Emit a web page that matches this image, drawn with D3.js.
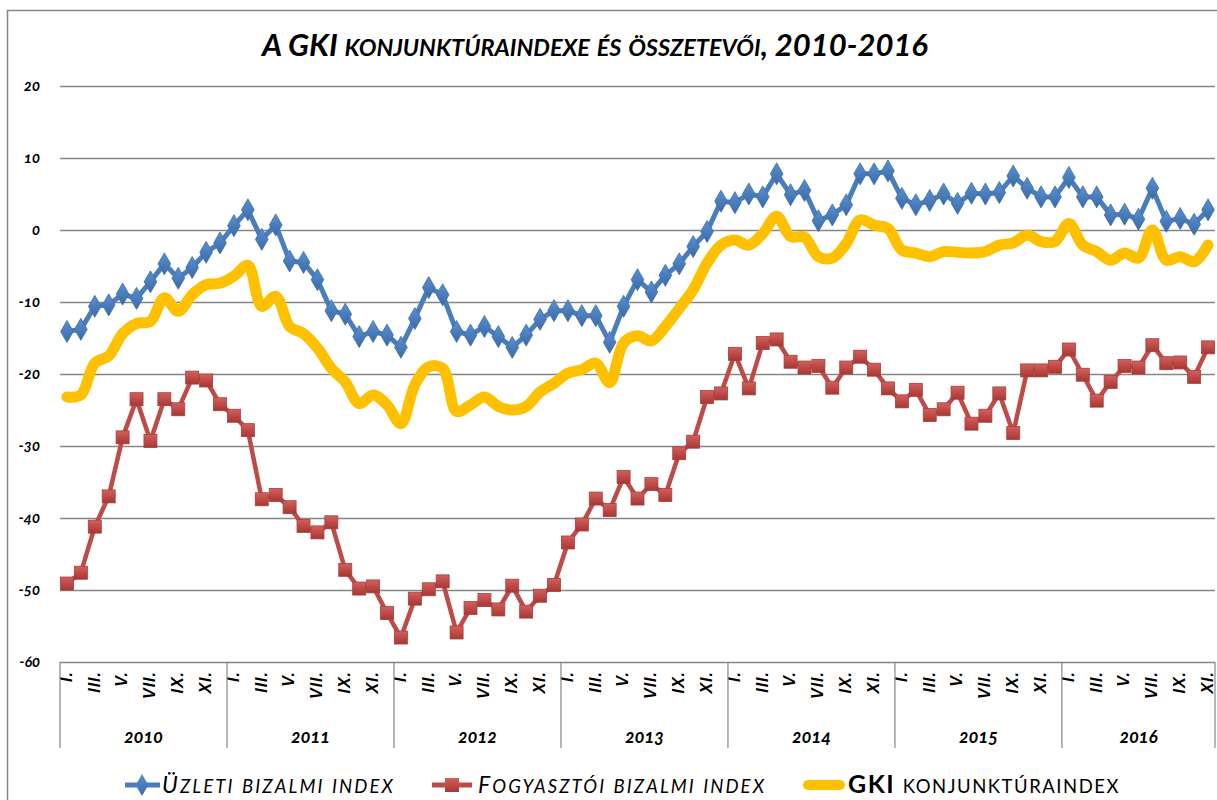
<!DOCTYPE html>
<html>
<head>
<meta charset="utf-8">
<script src="https://cdn.jsdelivr.net/npm/d3@7"></script>
<style>
    body { margin: 0; background: #ffffff; }
    svg { display: block; font-family: Lato, "Open Sans", sans-serif; }
    .tick-label { font-size: 15px; font-weight: bold; font-style: italic; font-variant-numeric: oldstyle-nums; fill: #000; }
</style>
</head>
<body>
<div class="graphContainer"></div>
<script>
// Years and how many months of each are shown (2016 ends with November)
const years = ['2010', '2011', '2012', '2013', '2014', '2015', '2016'];
const monthsPerYear = [12, 12, 12, 12, 12, 12, 11];
const monthLabels = ['I.', 'II.', 'III.', 'IV.', 'V.', 'VI.', 'VII.', 'VIII.', 'IX.', 'X.', 'XI.', 'XII.'];
const yTicks = [20, 10, 0, -10, -20, -30, -40, -50, -60];

// Üzleti bizalmi index
const uzleti = [
    -14.1, -13.8, -10.6, -10.4, -8.9, -9.5, -7.2, -4.7, -6.7, -5.2, -3.1, -1.8,
    0.6, 2.8, -1.3, 0.7, -4.3, -4.5, -6.9, -11.2, -11.7, -14.8, -14.1, -14.6,
    -16.3, -12.3, -8.0, -9.0, -14.1, -14.6, -13.4, -14.8, -16.3, -14.6, -12.4, -11.2,
    -11.2, -11.9, -11.9, -15.6, -10.6, -6.9, -8.6, -6.3, -4.7, -2.3, -0.2, 4.0,
    3.8, 5.0, 4.6, 7.8, 4.9, 5.5, 1.3, 2.1, 3.5, 7.8, 7.8, 8.2,
    4.4, 3.5, 4.1, 5.0, 3.7, 5.1, 5.0, 5.2, 7.5, 5.8, 4.6, 4.6,
    7.3, 4.6, 4.6, 2.1, 2.2, 1.5, 5.8, 1.2, 1.6, 0.8, 2.8
];

// Fogyasztói bizalmi index
const fogyasztoi = [
    -49.1, -47.6, -41.2, -37.0, -28.8, -23.5, -29.3, -23.5, -24.9, -20.5, -20.9, -24.2,
    -25.8, -27.8, -37.4, -36.8, -38.5, -41.1, -42.0, -40.6, -47.2, -49.8, -49.5, -53.2,
    -56.6, -51.2, -49.9, -48.8, -55.9, -52.5, -51.4, -52.7, -49.4, -53.0, -50.8, -49.3,
    -43.4, -40.9, -37.3, -38.9, -34.3, -37.3, -35.3, -36.8, -31.0, -29.4, -23.2, -22.7,
    -17.2, -22.0, -15.7, -15.2, -18.3, -19.1, -18.9, -21.9, -19.1, -17.6, -19.4, -22.0,
    -23.8, -22.2, -25.7, -24.9, -22.6, -26.9, -25.8, -22.7, -28.2, -19.5, -19.5, -19.0,
    -16.6, -20.1, -23.7, -21.1, -18.9, -19.1, -16.0, -18.5, -18.4, -20.4, -16.3
];

// GKI konjunktúraindex
const gki = [
    -23.2, -22.9, -18.5, -17.5, -14.4, -13.0, -12.7, -9.4, -11.3, -9.0, -7.6, -7.4,
    -6.4, -4.9, -10.6, -9.2, -13.4, -14.4, -16.4, -19.2, -21.1, -24.1, -22.9, -24.3,
    -26.9, -21.5, -19.0, -19.2, -25.2, -24.3, -23.2, -24.5, -25.0, -24.5, -22.5, -21.3,
    -19.9, -19.4, -18.5, -21.2, -15.7, -14.7, -15.4, -13.4, -10.9, -8.3, -4.6, -2.1,
    -1.4, -2.1, -0.5, 1.9, -0.9, -1.0, -3.7, -3.9, -1.9, 1.4, 0.7, 0.2,
    -2.8, -3.2, -3.7, -3.0, -3.1, -3.2, -3.0, -2.1, -1.8, -0.7, -1.6, -1.6,
    0.9, -2.1, -3.0, -4.2, -3.2, -3.9, 0.0, -4.2, -3.7, -4.4, -2.1
];

const colorBlue = '#4A7EBB';
const colorRed = '#BE4B48';
const colorYellow = '#FFC000';
const gridColor = '#868686';

const width = 1217, height = 800;
const margin = { top: 86, right: 2, bottom: 138, left: 60 };

// Build the monthly categories (index, year, month)
let categories = [];
years.forEach((y, yi) => {
    for (let m = 0; m < monthsPerYear[yi]; m++) {
        categories.push({ index: categories.length, year: y, month: m });
    }
});

// Writes text in small caps by hand: lowercase runs become smaller capitals
function smallCaps(textSel, str, bigSize, smallSize) {
    const runs = str.match(/(\p{Ll}+|[^\p{Ll}]+)/gu);
    runs.forEach(run => {
        const isLower = /\p{Ll}/u.test(run);
        textSel.append('tspan')
            .style('font-size', (isLower ? smallSize : bigSize) + 'px')
            .text(isLower ? run.toUpperCase() : run);
    });
}

// Spreads the letters so that a text fills the wanted width
function fitWidth(textSel, targetWidth) {
    const node = textSel.node();
    const current = node.getComputedTextLength();
    const chars = node.textContent.length;
    textSel.style('letter-spacing', ((targetWidth - current) / chars) + 'px');
}

const svg = d3.select('.graphContainer')
    .append('svg')
    .attr('width', width)
    .attr('height', height);

// Gradients for the markers
const defs = svg.append('defs');
function addGradient(id, light, dark) {
    const g = defs.append('linearGradient')
        .attr('id', id)
        .attr('x1', 0).attr('y1', 0).attr('x2', 0).attr('y2', 1);
    g.append('stop').attr('offset', '0%').attr('stop-color', light);
    g.append('stop').attr('offset', '100%').attr('stop-color', dark);
}
addGradient('gradRed', '#D4605C', '#A83633');
addGradient('gradBlue', '#5A90D0', '#3A6AA8');

// Chart border
svg.append('rect')
    .attr('x', 7.5)
    .attr('y', 10.5)
    .attr('width', width + 20)
    .attr('height', height + 20)
    .attr('fill', 'none')
    .attr('stroke', gridColor)
    .attr('stroke-width', 1.5);

// Scales
const xScale = d3.scaleBand()
    .domain(categories.map(d => d.index))
    .range([margin.left, width - margin.right])
    .padding(0);

const xPos = i => xScale(i) + xScale.bandwidth() / 2;

const yScale = d3.scaleLinear()
    .domain([-60, 20])
    .range([height - margin.bottom, margin.top]);

const plotRight = width - margin.right;
const plotBottom = height - margin.bottom;

// Horizontal gridlines
svg.append('g')
    .attr('class', 'grid')
    .attr('transform', 'translate(' + margin.left + ',0)')
    .call(d3.axisLeft(yScale)
        .tickValues(yTicks)
        .tickSize(-(plotRight - margin.left))
        .tickFormat('')
    )
    .call(g => g.select('.domain').remove())
    .call(g => g.selectAll('line').attr('stroke', gridColor).attr('stroke-width', 1.5));

// Y tick labels
svg.append('g')
    .selectAll('text')
    .data(yTicks)
    .enter()
    .append('text')
    .attr('class', 'tick-label')
    .attr('x', 40)
    .attr('y', d => yScale(d))
    .attr('dy', '0.35em')
    .attr('text-anchor', 'end')
    .text(d => d);

// Month labels (every second month), rotated
const monthAxis = svg.append('g')
    .attr('transform', 'translate(0,' + plotBottom + ')')
    .call(d3.axisBottom(xScale)
        .tickValues(categories.filter(d => d.month % 2 === 0).map(d => d.index))
        .tickSize(0)
        .tickFormat(i => monthLabels[categories[i].month])
    );
monthAxis.select('.domain').remove();
monthAxis.selectAll('text')
    .attr('class', 'tick-label')
    .style('font-size', '16px')
    .style('letter-spacing', '1px')
    .attr('transform', 'rotate(-90)')
    .attr('x', -9)
    .attr('y', 0)
    .attr('dy', '0.3em')
    .attr('text-anchor', 'end');

// Year separators and labels
let startIndex = 0;
let yearBounds = [];
years.forEach((y, yi) => {
    const x0 = xScale(startIndex);
    const lastIndex = startIndex + monthsPerYear[yi] - 1;
    const x1 = xScale(lastIndex) + xScale.bandwidth();
    yearBounds.push({ year: y, x0: x0, x1: x1 });
    startIndex = lastIndex + 1;
});

svg.append('g')
    .selectAll('line')
    .data([yearBounds[0].x0].concat(yearBounds.map(d => d.x1)))
    .enter()
    .append('line')
    .attr('x1', d => d)
    .attr('x2', d => d)
    .attr('y1', plotBottom)
    .attr('y2', plotBottom + 86)
    .attr('stroke', gridColor)
    .attr('stroke-width', 1.2);

svg.append('g')
    .selectAll('text')
    .data(yearBounds)
    .enter()
    .append('text')
    .attr('class', 'tick-label')
    .style('font-size', '18px')
    .attr('x', d => (d.x0 + d.x1) / 2)
    .attr('y', plotBottom + 81)
    .attr('text-anchor', 'middle')
    .text(d => d.year);

// Line generators
const line = d3.line()
    .x((d, i) => xPos(i))
    .y(d => yScale(d));

const smoothLine = d3.line()
    .x((d, i) => xPos(i))
    .y(d => yScale(d))
    .curve(d3.curveCatmullRom.alpha(0.5));

const diamond = d3.symbol().type(d3.symbolDiamond).size(140);

// Üzleti bizalmi index
svg.append('path')
    .datum(uzleti)
    .attr('fill', 'none')
    .attr('stroke', colorBlue)
    .attr('stroke-width', 5)
    .attr('stroke-linejoin', 'round')
    .attr('d', line);

svg.append('g')
    .selectAll('path')
    .data(uzleti)
    .enter()
    .append('path')
    .attr('d', diamond)
    .attr('transform', (d, i) => 'translate(' + xPos(i) + ',' + yScale(d) + ')')
    .attr('fill', 'url(#gradBlue)')
    .attr('stroke', '#3F6FA8')
    .attr('stroke-width', 0.8);

// Fogyasztói bizalmi index
svg.append('path')
    .datum(fogyasztoi)
    .attr('fill', 'none')
    .attr('stroke', colorRed)
    .attr('stroke-width', 4.5)
    .attr('stroke-linejoin', 'round')
    .attr('d', line);

svg.append('g')
    .selectAll('rect')
    .data(fogyasztoi)
    .enter()
    .append('rect')
    .attr('x', (d, i) => xPos(i) - 6.5)
    .attr('y', d => yScale(d) - 6.5)
    .attr('width', 13)
    .attr('height', 13)
    .attr('fill', 'url(#gradRed)')
    .attr('stroke', '#A5403D')
    .attr('stroke-width', 0.8);

// GKI konjunktúraindex
svg.append('path')
    .datum(gki)
    .attr('fill', 'none')
    .attr('stroke', colorYellow)
    .attr('stroke-width', 11)
    .attr('stroke-linejoin', 'round')
    .attr('stroke-linecap', 'round')
    .attr('d', smoothLine);

// Title
const title = svg.append('text')
    .attr('x', 595)
    .attr('y', 56)
    .attr('text-anchor', 'middle')
    .style('font-weight', 'bold')
    .style('font-style', 'italic');
smallCaps(title, 'A GKI konjunktúraindexe és összetevői, 2010-2016', 31, 23.5);

// Legend
const legendY = 785;
const legend = svg.append('g').attr('class', 'legend');

legend.append('line')
    .attr('x1', 125).attr('x2', 160)
    .attr('y1', legendY).attr('y2', legendY)
    .attr('stroke', colorBlue).attr('stroke-width', 5);
legend.append('path')
    .attr('d', diamond)
    .attr('transform', 'translate(142,' + legendY + ')')
    .attr('fill', 'url(#gradBlue)');
const blueText = legend.append('text')
    .attr('x', 162).attr('y', legendY + 8)
    .style('font-style', 'italic');
smallCaps(blueText, 'Üzleti bizalmi index', 23, 18.5);
fitWidth(blueText, 233);

legend.append('line')
    .attr('x1', 432).attr('x2', 472)
    .attr('y1', legendY).attr('y2', legendY)
    .attr('stroke', colorRed).attr('stroke-width', 5);
legend.append('rect')
    .attr('x', 445).attr('y', legendY - 7)
    .attr('width', 14).attr('height', 14)
    .attr('fill', 'url(#gradRed)');
const redText = legend.append('text')
    .attr('x', 478).attr('y', legendY + 8)
    .style('font-style', 'italic');
smallCaps(redText, 'Fogyasztói bizalmi index', 23, 18.5);
fitWidth(redText, 288);

legend.append('line')
    .attr('x1', 808).attr('x2', 840)
    .attr('y1', legendY).attr('y2', legendY)
    .attr('stroke', colorYellow).attr('stroke-width', 10)
    .attr('stroke-linecap', 'round');
const gkiText = legend.append('text')
    .attr('x', 848).attr('y', legendY + 8);
gkiText.append('tspan')
    .style('font-weight', 'bold')
    .style('font-size', '25px')
    .text('GKI');
smallCaps(gkiText, ' konjunktúraindex', 23, 18.5);
fitWidth(gkiText, 272);
</script>
</body>
</html>
